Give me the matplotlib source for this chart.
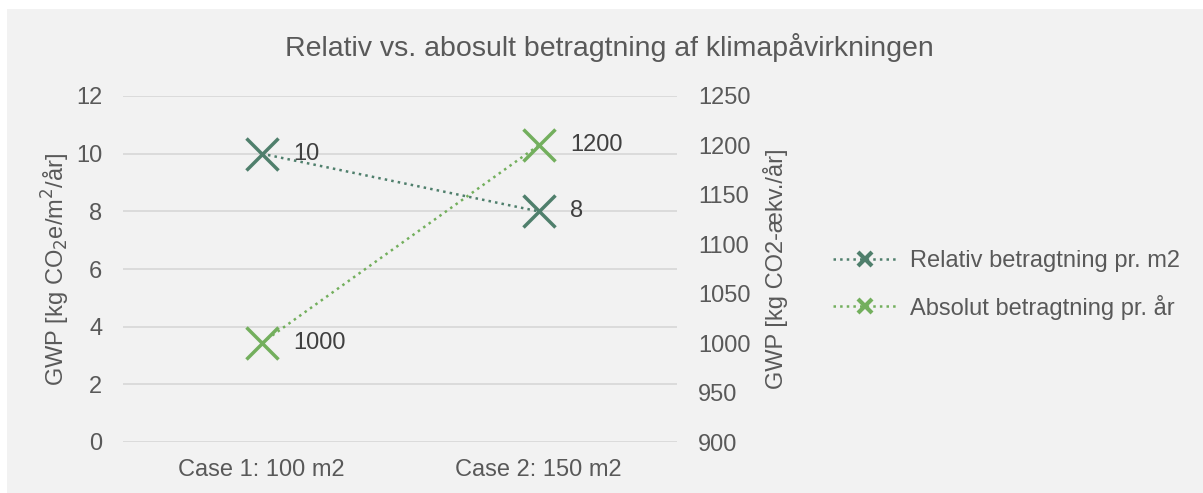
import matplotlib
matplotlib.use("Agg")
import matplotlib.pyplot as plt
from matplotlib.patches import Rectangle
from matplotlib.lines import Line2D

plt.rcParams['font.family'] = ['Liberation Sans', 'DejaVu Sans']

categories = ["Case 1: 100 m2", "Case 2: 150 m2"]
relativ = [10, 8]
absolut = [1000, 1200]
series_names = ["Relativ betragtning pr. m2", "Absolut betragtning pr. år"]
title = "Relativ vs. abosult betragtning af klimapåvirkningen"
left_ticks = [0, 2, 4, 6, 8, 10, 12]
right_ticks = [900, 950, 1000, 1050, 1100, 1150, 1200, 1250]

W, H = 1203, 493
fig = plt.figure(figsize=(W/100, H/100), dpi=100)
fig.patch.set_facecolor('white')
fig.patches.append(Rectangle((7/W, 0), 1 - 7/W, 1 - 9/H, transform=fig.transFigure,
                             facecolor='#F2F2F2', edgecolor='none', zorder=-10))

txt = '#595959'
c_rel = '#4F7F6C'
c_abs = '#73AF5D'
fs = 17

ax = fig.add_axes([123/W, 1 - 442/H, (677-123)/W, (442-96)/H])
ax.set_facecolor('none')
ax2 = ax.twinx()
ax2.set_facecolor('none')

x = list(range(len(categories)))
ax.plot(x, relativ, linestyle=':', color=c_rel, lw=1.8, marker='x', markersize=23,
        markeredgewidth=2.5, zorder=3)
ax2.plot(x, absolut, linestyle=':', color=c_abs, lw=1.8, marker='x', markersize=23,
         markeredgewidth=2.5, zorder=3)

for xi, v in zip(x, relativ):
    ax.annotate(f"{v}", (xi, v), xytext=(23, 0), textcoords='offset points',
                ha='left', va='center', fontsize=fs, color='#404040')
for xi, v in zip(x, absolut):
    ax2.annotate(f"{v}", (xi, v), xytext=(23, 0), textcoords='offset points',
                 ha='left', va='center', fontsize=fs, color='#404040')

ax.set_xlim(-0.5, 1.5)
ax.set_ylim(0, 12)
ax2.set_ylim(900, 1250)
ax.set_yticks(left_ticks)
ax2.set_yticks(right_ticks)
ax.set_xticks(x)
ax.set_xticklabels(categories)
ax.grid(axis='y', color='#D9D9D9', lw=1.3)
ax.set_axisbelow(True)

for a in (ax, ax2):
    for s in a.spines.values():
        s.set_visible(False)
    a.tick_params(length=0, labelsize=fs, colors=txt)
ax.tick_params(axis='y', pad=15)
ax2.tick_params(axis='y', pad=15)
ax.tick_params(axis='x', pad=12)

ax.set_ylabel("GWP [kg CO$_2$e/m$^2$/år]", fontsize=fs, color=txt, labelpad=3)
ax2.set_ylabel("GWP [kg CO2-ækv./år]", fontsize=fs, color=txt, labelpad=9)

fig.text(609/W, 1 - 48/H, title, ha='center', va='center', fontsize=20.5, color=txt)

handles = [Line2D([], [], linestyle=':', color=c_rel, lw=1.8, marker='x', markersize=10, markeredgewidth=3),
           Line2D([], [], linestyle=':', color=c_abs, lw=1.8, marker='x', markersize=10, markeredgewidth=3)]
leg = fig.legend(handles, series_names, loc='center left', bbox_to_anchor=(833/W, 1 - 285/H),
                 frameon=False, fontsize=fs, labelcolor=txt, handlelength=2.7, handletextpad=0.55,
                 labelspacing=0.95, borderpad=0, borderaxespad=0)

fig.savefig("out.png", dpi=100, facecolor=fig.get_facecolor())
